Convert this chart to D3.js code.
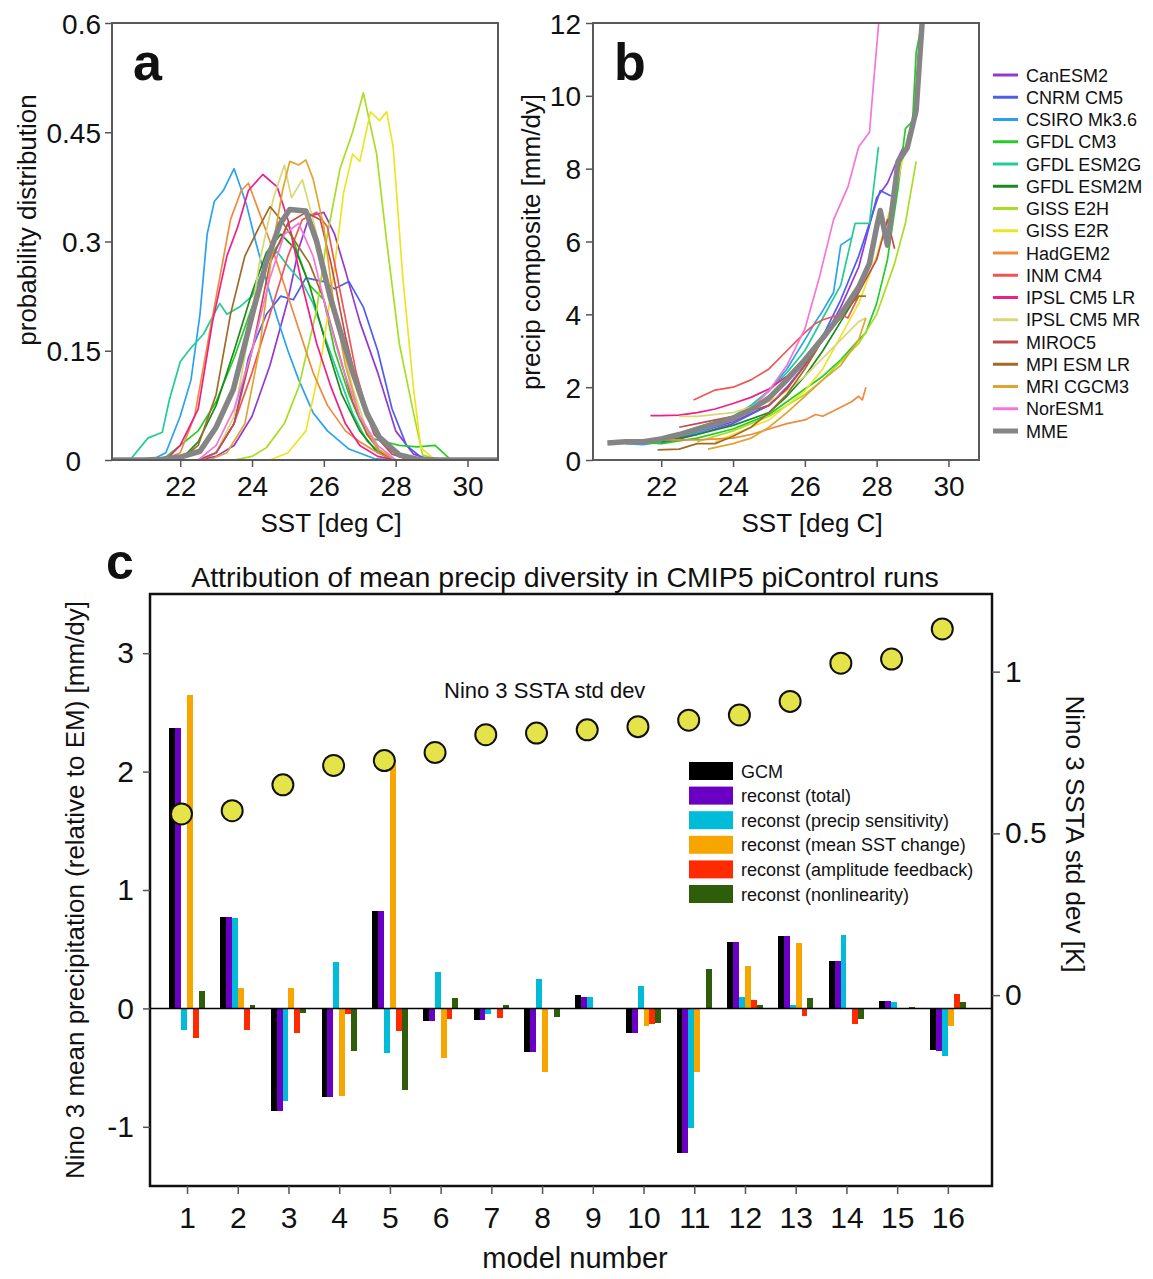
<!DOCTYPE html>
<html>
<head>
<meta charset="utf-8">
<script src="https://cdn.jsdelivr.net/npm/d3@7"></script>
<style>
  body { margin: 0; background: #fff; }
  text { font-family: "Liberation Sans", Arial, sans-serif; fill: #111; }
</style>
</head>
<body>
<div id="viz"></div>
<script>
// models shown in panels a and b
var modelNames = ["CanESM2", "CNRM CM5", "CSIRO Mk3.6", "GFDL CM3", "GFDL ESM2G",
  "GFDL ESM2M", "GISS E2H", "GISS E2R", "HadGEM2", "INM CM4", "IPSL CM5 LR",
  "IPSL CM5 MR", "MIROC5", "MPI ESM LR", "MRI CGCM3", "NorESM1"];
var modelColors = ["#9638d0", "#4a5ff0", "#2aa2f0", "#26cc26", "#22cc96",
  "#1d8a1d", "#a8de22", "#eee426", "#f08a3c", "#ee5656", "#ee2088",
  "#d8d878", "#c04c4c", "#a06a28", "#e0a430", "#f476d8"];

// panel a: SST probability distribution, [SST, p]
var pdfCurves = [
  [[22.5,0],[23,0.005],[23.5,0.02],[24,0.06],[24.5,0.13],[25,0.22],[25.3,0.29],[25.6,0.335],[26,0.34],[26.3,0.31],[26.6,0.26],[27,0.19],[27.5,0.12],[28,0.04],[28.5,0.008],[29,0]],
  [[22.5,0],[23,0.01],[23.5,0.05],[23.9,0.14],[24.1,0.165],[24.4,0.2],[24.8,0.225],[25.15,0.22],[25.5,0.25],[26,0.245],[26.3,0.235],[26.7,0.245],[27.1,0.21],[27.5,0.15],[27.9,0.07],[28.3,0.02],[28.8,0]],
  [[21.2,0],[21.6,0.01],[22,0.06],[22.3,0.11],[22.55,0.2],[22.75,0.31],[22.95,0.355],[23.2,0.37],[23.5,0.4],[23.85,0.35],[24.1,0.3],[24.4,0.245],[24.7,0.195],[25,0.15],[25.3,0.11],[25.7,0.065],[26.1,0.04],[26.7,0.015],[27.4,0.002],[28,0]],
  [[21.5,0],[22,0.02],[22.5,0.04],[23,0.08],[23.5,0.14],[24,0.21],[24.5,0.28],[24.8,0.3],[25,0.325],[25.3,0.28],[25.6,0.24],[26,0.22],[26.3,0.15],[26.7,0.09],[27,0.055],[27.3,0.03],[27.7,0.025],[28.1,0.02],[28.6,0.018],[29.1,0.02],[29.5,0.002],[30,0]],
  [[20.6,0],[21.1,0.03],[21.5,0.038],[21.7,0.083],[22,0.135],[22.3,0.154],[22.65,0.173],[23.1,0.215],[23.3,0.2],[23.65,0.21],[24,0.225],[24.4,0.272],[24.7,0.286],[25.05,0.263],[25.4,0.244],[25.7,0.215],[26.1,0.159],[26.45,0.111],[26.8,0.064],[27.2,0.026],[27.65,0.007],[28,0]],
  [[22,0],[22.5,0.025],[23,0.075],[23.5,0.15],[24,0.23],[24.4,0.285],[24.8,0.31],[25.2,0.29],[25.6,0.24],[26,0.17],[26.5,0.09],[27,0.04],[27.5,0.01],[28,0]],
  [[23.5,0],[24,0.005],[24.4,0.017],[24.9,0.05],[25.3,0.1],[25.8,0.206],[26.1,0.31],[26.45,0.4],[26.8,0.45],[27.1,0.504],[27.47,0.42],[27.75,0.3],[28.1,0.16],[28.5,0.064],[28.75,0.007],[29.2,0]],
  [[24.5,0],[25,0.01],[25.5,0.04],[25.9,0.13],[26.26,0.25],[26.55,0.367],[26.8,0.42],[27,0.41],[27.3,0.478],[27.55,0.466],[27.75,0.478],[27.93,0.43],[28.2,0.25],[28.5,0.097],[28.7,0.017],[29.1,0]],
  [[21.5,0],[22,0.01],[22.4,0.06],[22.8,0.17],[23.1,0.25],[23.4,0.33],[23.7,0.37],[23.9,0.38],[24.2,0.34],[24.5,0.3],[24.9,0.24],[25.3,0.18],[25.7,0.12],[26.1,0.075],[26.6,0.04],[27,0.025],[27.5,0.01],[28,0]],
  [[22.6,0],[23,0.01],[23.5,0.05],[24,0.12],[24.5,0.2],[25,0.28],[25.4,0.33],[25.8,0.34],[26.1,0.32],[26.5,0.22],[26.9,0.12],[27.3,0.05],[27.8,0.015],[28.3,0]],
  [[21.6,0],[22,0.02],[22.5,0.07],[22.9,0.19],[23.3,0.28],[23.6,0.32],[23.9,0.37],[24.3,0.392],[24.7,0.375],[25,0.33],[25.4,0.24],[25.8,0.16],[26.2,0.1],[26.6,0.05],[27,0.02],[27.5,0.005],[28,0]],
  [[22.5,0],[23,0.01],[23.5,0.06],[23.9,0.17],[24.2,0.27],[24.6,0.36],[24.9,0.405],[25.1,0.36],[25.4,0.385],[25.7,0.33],[26,0.27],[26.4,0.18],[26.8,0.1],[27.2,0.04],[27.6,0.01],[28,0]],
  [[22.5,0],[23,0.01],[23.5,0.05],[24,0.15],[24.5,0.27],[25,0.325],[25.5,0.34],[25.9,0.33],[26.2,0.27],[26.6,0.17],[27,0.09],[27.4,0.035],[27.9,0.008],[28.4,0]],
  [[22,0],[22.5,0.02],[23,0.09],[23.4,0.2],[23.8,0.28],[24.2,0.32],[24.5,0.348],[24.8,0.33],[25.2,0.3],[25.6,0.27],[26,0.22],[26.4,0.15],[26.8,0.08],[27.2,0.035],[27.6,0.01],[28,0]],
  [[22.8,0],[23.3,0.01],[23.8,0.05],[24.2,0.15],[24.6,0.3],[24.85,0.37],[25.05,0.41],[25.3,0.405],[25.5,0.412],[25.7,0.386],[26,0.32],[26.26,0.22],[26.6,0.13],[27,0.06],[27.5,0.015],[28,0]],
  [[22.5,0],[23,0.02],[23.5,0.07],[24,0.15],[24.5,0.25],[24.9,0.31],[25.3,0.325],[25.7,0.28],[26.1,0.2],[26.5,0.13],[27,0.06],[27.5,0.02],[28,0]]
];
var pdfMME = [[20.1,0],[21,0],[21.5,0.001],[22,0.004],[22.55,0.012],[23,0.045],[23.48,0.097],[24.04,0.206],[24.4,0.272],[24.78,0.324],[25.05,0.344],[25.5,0.342],[25.8,0.3],[26.17,0.225],[26.45,0.178],[26.8,0.121],[27.2,0.064],[27.55,0.031],[28.1,0.007],[28.6,0.001],[29.2,0],[30.85,0]];

// panel b: precip composite, [SST, mm/dy]
var precipCurves = [
  [[21.5,0.45],[22,0.5],[23,0.75],[24,1.05],[25,1.5],[25.5,2.0],[26,2.6],[26.5,3.3],[27,4.2],[27.5,5.3],[28,7.2],[28.3,7.6],[28.6,8.3],[28.75,8.6]],
  [[22,0.45],[23,0.7],[24,1.0],[25,1.5],[25.5,1.95],[26,2.6],[26.5,3.4],[27,4.4],[27.5,5.6],[27.9,6.8],[28.1,7.4],[28.4,7.25]],
  [[21,0.45],[21.5,0.42],[22,0.5],[23,0.75],[24,1.1],[24.5,1.5],[25,1.9],[25.5,2.5],[26,3.3],[26.3,3.8],[26.5,4.1],[26.8,4.6],[27,5.9],[27.3,6.1]],
  [[21,0.5],[22,0.45],[23,0.6],[24,0.85],[25,1.25],[25.5,1.6],[26,1.95],[26.5,2.3],[27,2.75],[27.5,3.3],[27.7,3.5],[28,4.3],[28.3,5.5],[28.6,7.5],[28.8,9.1],[29,9.3],[29.1,11.2],[29.2,11.7]],
  [[21.5,0.5],[22,0.55],[23,0.9],[24,1.2],[24.5,1.5],[25,1.9],[25.5,2.4],[26,3.0],[26.5,3.9],[27,4.8],[27.4,6.5],[27.8,6.5],[28.05,8.6]],
  [[22,0.5],[23,0.7],[24,0.95],[25,1.3],[25.5,1.75],[26,2.3],[26.5,3.0],[27,3.8],[27.5,4.6]],
  [[23,0.5],[24,0.8],[25,1.2],[26,1.8],[26.5,2.2],[27,2.7],[27.5,3.2],[28,4.0],[28.5,5.4],[28.8,6.5],[29.1,8.2]],
  [[23.5,0.5],[24,0.7],[25,1.1],[26,1.9],[26.5,2.5],[27,3.4],[27.5,4.3],[28,5.6],[28.5,7.3],[28.9,9.0]],
  [[22,0.55],[23,0.55],[24,0.6],[24.5,0.7],[25,0.85],[25.5,1.0],[26,1.1],[26.3,1.25],[26.5,1.2],[27,1.45],[27.3,1.6],[27.5,1.75],[27.6,1.65],[27.7,2.0]],
  [[22.9,1.65],[23.5,1.92],[24,2.0],[24.5,2.2],[25,2.5],[25.5,3.0],[26,3.5],[26.3,3.75],[26.5,3.85],[27,4.0],[27.2,3.9],[27.5,4.5]],
  [[21.7,1.22],[22,1.22],[22.5,1.23],[23,1.3],[23.5,1.4],[24,1.55],[24.5,1.72],[25,1.95],[25.5,2.3],[26,2.8],[26.5,3.4],[27,3.9],[27.3,4.5]],
  [[22.5,1.2],[23,1.2],[24,1.3],[25,1.6],[25.5,1.9],[26,2.3],[26.5,2.8],[27,3.3],[27.5,3.8],[27.7,3.9]],
  [[22.5,0.9],[23,1.0],[24,1.2],[25,1.5],[25.5,1.95],[26,2.6],[26.5,3.4],[27,3.9],[27.5,4.6],[28,5.5],[28.3,6.6],[28.5,5.8]],
  [[21.9,0.28],[22.5,0.3],[23,0.45],[23.5,0.45],[24,0.65],[24.5,0.9],[25,1.3],[25.5,1.8],[26,2.5],[26.5,3.3],[27,4.0],[27.5,4.5],[27.7,4.5]],
  [[23.3,0.3],[24,0.45],[24.5,0.6],[25,0.9],[25.5,1.3],[26,1.75],[26.5,2.2],[27,2.6],[27.5,3.3],[27.7,3.9]],
  [[22.5,0.7],[23,0.8],[24,1.1],[24.5,1.4],[25,1.9],[25.5,2.6],[26,3.6],[26.4,5.0],[26.8,6.6],[27.2,7.5],[27.5,8.6],[27.8,9.0],[27.9,10.2],[28.1,12.5]]
];
var precipMME = [[20.5,0.47],[21,0.5],[21.5,0.5],[22,0.58],[22.5,0.7],[23,0.85],[23.5,1.0],[24,1.15],[24.5,1.38],[25,1.7],[25.5,2.2],[26,2.75],[26.5,3.35],[27,4.0],[27.5,4.75],[27.8,5.4],[28,6.4],[28.1,6.85],[28.3,5.9],[28.6,8.2],[28.85,8.57],[29.1,9.6],[29.3,12.5]];

// panel c
var modelNumbers = [1, 2, 3, 4, 5, 6, 7, 8, 9, 10, 11, 12, 13, 14, 15, 16];
var barNames = ["GCM", "reconst (total)", "reconst (precip sensitivity)",
  "reconst (mean SST change)", "reconst (amplitude feedback)", "reconst (nonlinearity)"];
var barColors = ["#000000", "#6a00c4", "#00bcd8", "#f7a600", "#ff2a00", "#2e5e0a"];
var gcmVals     = [2.37, 0.77, -0.87, -0.75, 0.82, -0.11, -0.10, -0.37, 0.11, -0.21, -1.22, 0.56, 0.61, 0.40, 0.06, -0.35];
var totalVals   = [2.37, 0.77, -0.87, -0.75, 0.82, -0.11, -0.10, -0.37, 0.10, -0.21, -1.22, 0.56, 0.61, 0.40, 0.06, -0.36];
var precipVals  = [-0.18, 0.76, -0.78, 0.39, -0.38, 0.31, -0.05, 0.25, 0.10, 0.19, -1.01, 0.10, 0.03, 0.62, 0.05, -0.40];
var sstVals     = [2.65, 0.17, 0.17, -0.74, 2.10, -0.42, 0.00, -0.54, 0.00, -0.15, -0.54, 0.36, 0.55, 0.00, 0.00, -0.15];
var ampVals     = [-0.25, -0.18, -0.21, -0.05, -0.19, -0.09, -0.08, 0.00, 0.00, -0.13, 0.00, 0.07, -0.06, -0.13, 0.00, 0.12];
var nonlinVals  = [0.15, 0.03, -0.04, -0.36, -0.69, 0.09, 0.03, -0.07, 0.00, -0.12, 0.33, 0.03, 0.09, -0.09, 0.01, 0.05];
var ninoStd     = [0.56, 0.57, 0.65, 0.71, 0.725, 0.75, 0.805, 0.81, 0.82, 0.83, 0.85, 0.866, 0.908, 1.026, 1.039, 1.132];

var barSeries = [gcmVals, totalVals, precipVals, sstVals, ampVals, nonlinVals];

var W = 1153, H = 1279;
var svg = d3.select("#viz").append("svg")
  .attr("width", W).attr("height", H);

var fAxis = 28, fLabel = 26;

function styleAxis(g) {
  g.select(".domain").remove();
  g.selectAll(".tick line").attr("stroke", "#555").attr("stroke-width", 1.5);
  g.selectAll(".tick text").attr("font-size", fAxis + "px")
    .attr("font-family", "Liberation Sans, Arial, sans-serif").attr("fill", "#111");
}

// ---------- panels a and b ----------
var pTop = 23, pBottom = 460, pWidth = 386;
var line = function(x, y) {
  return d3.line().x(function(d) { return x(d[0]); }).y(function(d) { return y(d[1]); });
};

function drawPanel(opt) {
  var x = d3.scaleLinear().domain([20.1, 30.85]).range([opt.left, opt.left + pWidth]);
  var y = d3.scaleLinear().domain(opt.yDomain).range([pBottom, pTop]);
  var g = svg.append("g");

  g.append("clipPath").attr("id", opt.id + "clip")
    .append("rect").attr("x", opt.left).attr("y", pTop)
    .attr("width", pWidth).attr("height", pBottom - pTop);

  var lines = g.append("g").attr("clip-path", "url(#" + opt.id + "clip)");
  var ln = line(x, y);
  lines.selectAll("path.model")
    .data(opt.curves)
    .enter().append("path")
    .attr("class", "model")
    .attr("d", ln)
    .attr("fill", "none")
    .attr("stroke", function(d, i) { return modelColors[i]; })
    .attr("stroke-width", 1.7)
    .attr("stroke-linejoin", "round");
  lines.append("path")
    .datum(opt.mme)
    .attr("d", ln)
    .attr("fill", "none")
    .attr("stroke", "#858585")
    .attr("stroke-width", 5.5)
    .attr("stroke-linejoin", "round");

  g.append("rect")
    .attr("x", opt.left).attr("y", pTop)
    .attr("width", pWidth).attr("height", pBottom - pTop)
    .attr("fill", "none").attr("stroke", "#5a5a5a").attr("stroke-width", 2);

  var ya = g.append("g").attr("transform", "translate(" + opt.left + ",0)")
    .call(d3.axisLeft(y).tickValues(opt.yTicks).tickSize(7).tickPadding(opt.yPad)
      .tickFormat(function(d) { return String(d); }));
  styleAxis(ya);
  ya.selectAll(".tick text").attr("dy", "0.36em");
  if (opt.zeroShift) {
    ya.selectAll(".tick text").filter(function(d) { return d === 0; })
      .attr("dx", -opt.zeroShift);
  }

  var xa = g.append("g").attr("transform", "translate(0," + pBottom + ")")
    .call(d3.axisBottom(x).tickValues([22, 24, 26, 28, 30]).tickSize(7).tickPadding(9));
  styleAxis(xa);

  g.append("text")
    .attr("x", x(26.2)).attr("y", 532)
    .attr("text-anchor", "middle").attr("font-size", fLabel + "px")
    .text("SST [deg C]");

  g.append("text")
    .attr("transform", "translate(" + opt.labelX + "," + opt.labelY + ") rotate(-90)")
    .attr("text-anchor", "middle").attr("font-size", fLabel + "px")
    .text(opt.yLabel);

  g.append("text")
    .attr("x", opt.left + 21).attr("y", 80)
    .attr("font-size", "52px").attr("font-weight", "bold")
    .text(opt.id);
}

drawPanel({
  id: "a", left: 112, yDomain: [0, 0.6], yTicks: [0, 0.15, 0.3, 0.45, 0.6], yPad: 4,
  zeroShift: 20, curves: pdfCurves, mme: pdfMME,
  yLabel: "probability distribution", labelX: 36, labelY: 220
});
drawPanel({
  id: "b", left: 593, yDomain: [0, 12], yTicks: [0, 2, 4, 6, 8, 10, 12], yPad: 5,
  curves: precipCurves, mme: precipMME,
  yLabel: "precip composite [mm/dy]", labelX: 540, labelY: 242
});

// legend for a and b
var legAB = svg.append("g");
var legRows = modelNames.concat(["MME"]);
var legY = d3.scalePoint().domain(d3.range(legRows.length)).range([75, 431]);
legAB.selectAll("line")
  .data(legRows).enter().append("line")
  .attr("x1", 993).attr("x2", 1018)
  .attr("y1", function(d, i) { return legY(i); })
  .attr("y2", function(d, i) { return legY(i); })
  .attr("stroke", function(d, i) { return i < modelColors.length ? modelColors[i] : "#858585"; })
  .attr("stroke-width", function(d, i) { return i < modelColors.length ? 3 : 5; });
legAB.selectAll("text")
  .data(legRows).enter().append("text")
  .attr("x", 1026)
  .attr("y", function(d, i) { return legY(i) + 6.5; })
  .attr("font-size", "18px")
  .text(function(d) { return d; });

// ---------- panel c ----------
var cL = 150, cR = 992, cT = 594, cB = 1186;
var xc = d3.scaleLinear().domain([0.27, 16.87]).range([cL, cR]);
var yL = d3.scaleLinear().domain([-1.5, 3.5]).range([cB, cT]);
var yR = d3.scaleLinear().domain([-0.59, 1.24]).range([cB, cT]);
var barStep = 0.116;
var barW = xc(barStep) - xc(0);

var gc = svg.append("g");

var groups = gc.selectAll("g.series")
  .data(barSeries).enter().append("g")
  .attr("class", "series")
  .attr("fill", function(d, k) { return barColors[k]; });

groups.each(function(vals, k) {
  d3.select(this).selectAll("rect")
    .data(vals).enter().append("rect")
    .attr("x", function(v, i) { return xc(modelNumbers[i] + (k - 3) * barStep); })
    .attr("width", barW)
    .attr("y", function(v) { return yL(Math.max(v, 0)); })
    .attr("height", function(v) { return Math.abs(yL(v) - yL(0)); })
    .attr("shape-rendering", "crispEdges");
});

gc.append("line")
  .attr("x1", cL).attr("x2", cR)
  .attr("y1", yL(0)).attr("y2", yL(0))
  .attr("stroke", "#000").attr("stroke-width", 1.5);

gc.selectAll("circle")
  .data(ninoStd).enter().append("circle")
  .attr("cx", function(d, i) { return xc(modelNumbers[i] - 0.11); })
  .attr("cy", function(d) { return yR(d); })
  .attr("r", 10.5)
  .attr("fill", "#e4e44a")
  .attr("stroke", "#111")
  .attr("stroke-width", 2);

gc.append("rect")
  .attr("x", cL).attr("y", cT).attr("width", cR - cL).attr("height", cB - cT)
  .attr("fill", "none").attr("stroke", "#111").attr("stroke-width", 2.5);

var yla = gc.append("g").attr("transform", "translate(" + cL + ",0)")
  .call(d3.axisLeft(yL).tickValues([-1, 0, 1, 2, 3]).tickSize(7).tickPadding(9)
    .tickFormat(function(d) { return String(d); }));
styleAxis(yla);
yla.selectAll(".tick text").attr("font-size", "30px");

var yra = gc.append("g").attr("transform", "translate(" + cR + ",0)")
  .call(d3.axisRight(yR).tickValues([0, 0.5, 1]).tickSize(8).tickPadding(5)
    .tickFormat(function(d) { return String(d); }));
styleAxis(yra);
yra.selectAll(".tick text").attr("font-size", "30px");

var xca = gc.append("g").attr("transform", "translate(0," + cB + ")")
  .call(d3.axisBottom(xc).tickValues(modelNumbers).tickSize(8).tickPadding(13));
styleAxis(xca);
xca.selectAll(".tick text").attr("font-size", "30px");

gc.append("text")
  .attr("x", 565).attr("y", 587)
  .attr("text-anchor", "middle").attr("font-size", "28.5px")
  .text("Attribution of mean precip diversity in CMIP5 piControl runs");

gc.append("text")
  .attr("x", 106).attr("y", 579)
  .attr("font-size", "50px").attr("font-weight", "bold")
  .text("c");

gc.append("text")
  .attr("x", 575).attr("y", 1268)
  .attr("text-anchor", "middle").attr("font-size", "29px")
  .text("model number");

gc.append("text")
  .attr("transform", "translate(84," + (cT + cB) / 2 + ") rotate(-90)")
  .attr("text-anchor", "middle").attr("font-size", fLabel + "px")
  .text("Nino 3 mean precipitation (relative to EM) [mm/dy]");

gc.append("text")
  .attr("transform", "translate(1066,834) rotate(90)")
  .attr("text-anchor", "middle").attr("font-size", fLabel + "px")
  .text("Nino 3 SSTA std dev [K]");

gc.append("text")
  .attr("x", 444).attr("y", 698)
  .attr("font-size", "22px")
  .text("Nino 3 SSTA std dev");

// bar legend
var legC = gc.append("g");
var legCY = d3.scalePoint().domain(d3.range(barNames.length)).range([771, 894]);
legC.selectAll("rect")
  .data(barNames).enter().append("rect")
  .attr("x", 689).attr("width", 44)
  .attr("y", function(d, i) { return legCY(i) - 9; })
  .attr("height", 18)
  .attr("fill", function(d, i) { return barColors[i]; });
legC.selectAll("text")
  .data(barNames).enter().append("text")
  .attr("x", 741)
  .attr("y", function(d, i) { return legCY(i) + 6.5; })
  .attr("font-size", "18px")
  .text(function(d) { return d; });
</script>
</body>
</html>
